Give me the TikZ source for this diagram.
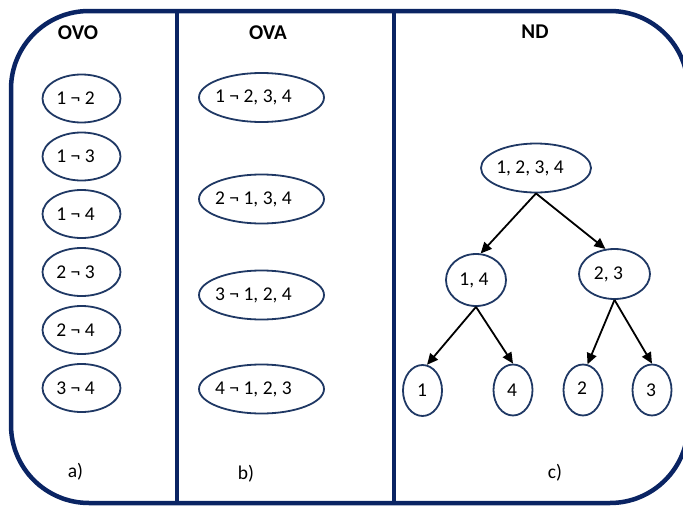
\documentclass[tikz,border=0pt]{standalone}
\usepackage{fontspec}
\setmainfont{Carlito}
\usetikzlibrary{shapes.geometric,arrows.meta}
\definecolor{framenavy}{HTML}{0A2463}
\definecolor{ringnavy}{HTML}{1F3864}
% zero-width text box, nudged left so the ellipse size comes from its minimum size only
\newcommand{\intext}[2][12pt]{\makebox[0pt]{\hspace*{-#1}#2}}

\begin{document}
\begin{tikzpicture}[x=1pt,y=-1pt,
  frame/.style={draw=framenavy,line width=4.5pt},
  divider/.style={draw=framenavy,line width=4pt},
  ring/.style={ellipse,draw=ringnavy,line width=1.8pt,inner sep=0pt,
    font=\fontsize{19.5}{22}\selectfont},
  ovobox/.style={ring,minimum width=78pt,minimum height=48pt},
  ovabox/.style={ring,minimum width=125pt,minimum height=49pt},
  leafbox/.style={ring,minimum width=39pt,minimum height=51pt},
  title/.style={font=\bfseries\fontsize{21}{24}\selectfont},
  caption/.style={font=\fontsize{19.5}{22}\selectfont},
  tree/.style={-{Triangle[length=11pt,width=10pt]},line width=1.8pt,black}
]
\useasboundingbox (0,0) rectangle (683,506);

% outer frame and column dividers
\draw[frame,rounded corners=78pt] (11,11) rectangle (688,503);
\draw[divider] (177,11) -- (177,503);
\draw[divider] (394,11) -- (394,503);

% column titles
\node[title] (tovo) at (78,33) {OVO};
\node[title] (tova) at (268,33) {OVA};
\node[title] (tnd)  at (535,32) {ND};

% one-vs-one pairs
\node[ovobox] (p12) at (81.5,98.5)  {\intext{1 ¬ 2}};
\node[ovobox] (p13) at (81.5,156.5) {\intext{1 ¬ 3}};
\node[ovobox] (p14) at (81.5,214)   {\intext{1 ¬ 4}};
\node[ovobox] (p23) at (81.5,272)   {\intext{2 ¬ 3}};
\node[ovobox] (p24) at (81.5,330)   {\intext{2 ¬ 4}};
\node[ovobox] (p34) at (81.5,388)   {\intext{3 ¬ 4}};

% one-vs-all splits
\node[ovabox] (a1) at (261.5,97.5) {\intext[16pt]{1 ¬ 2, 3, 4}};
\node[ovabox] (a2) at (261.5,199)  {\intext[16pt]{2 ¬ 1, 3, 4}};
\node[ovabox] (a3) at (261.5,295)  {\intext[16pt]{3 ¬ 1, 2, 4}};
\node[ovabox] (a4) at (261.5,389)  {\intext[16pt]{4 ¬ 1, 2, 3}};

% nested dichotomy tree
\node[ring,minimum width=110pt,minimum height=49pt] (root) at (536,168) {\intext{1, 2, 3, 4}};
\node[ring,minimum width=60pt,minimum height=52pt]  (n14)  at (476,280) {\intext[4pt]{1, 4}};
\node[ring,minimum width=71pt,minimum height=50pt]  (n23)  at (614.5,274) {\intext{2, 3}};
\node[leafbox] (l1) at (422.5,390.5) {\intext[1pt]{1}};
\node[leafbox] (l4) at (513,390)     {\intext[2pt]{4}};
\node[leafbox] (l2) at (583,390)     {\intext[2pt]{\raisebox{4pt}{2}}};
\node[leafbox] (l3) at (652,390)     {\intext[2pt]{3}};

\draw[tree] (root.south) -- (n14.80);
\draw[tree] (root.south) -- (n23.110);
\draw[tree] (n14.south) -- (l1.80);
\draw[tree] (n14.south) -- (l4.north);
\draw[tree] (n23.south) -- (l2.80);
\draw[tree] (n23.south) -- (l3.north);

% panel captions
\node[caption] (ca) at (75.5,472) {a)};
\node[caption] (cb) at (246,474) {b)};
\node[caption] (cc) at (555,473) {c)};
\end{tikzpicture}
\end{document}
